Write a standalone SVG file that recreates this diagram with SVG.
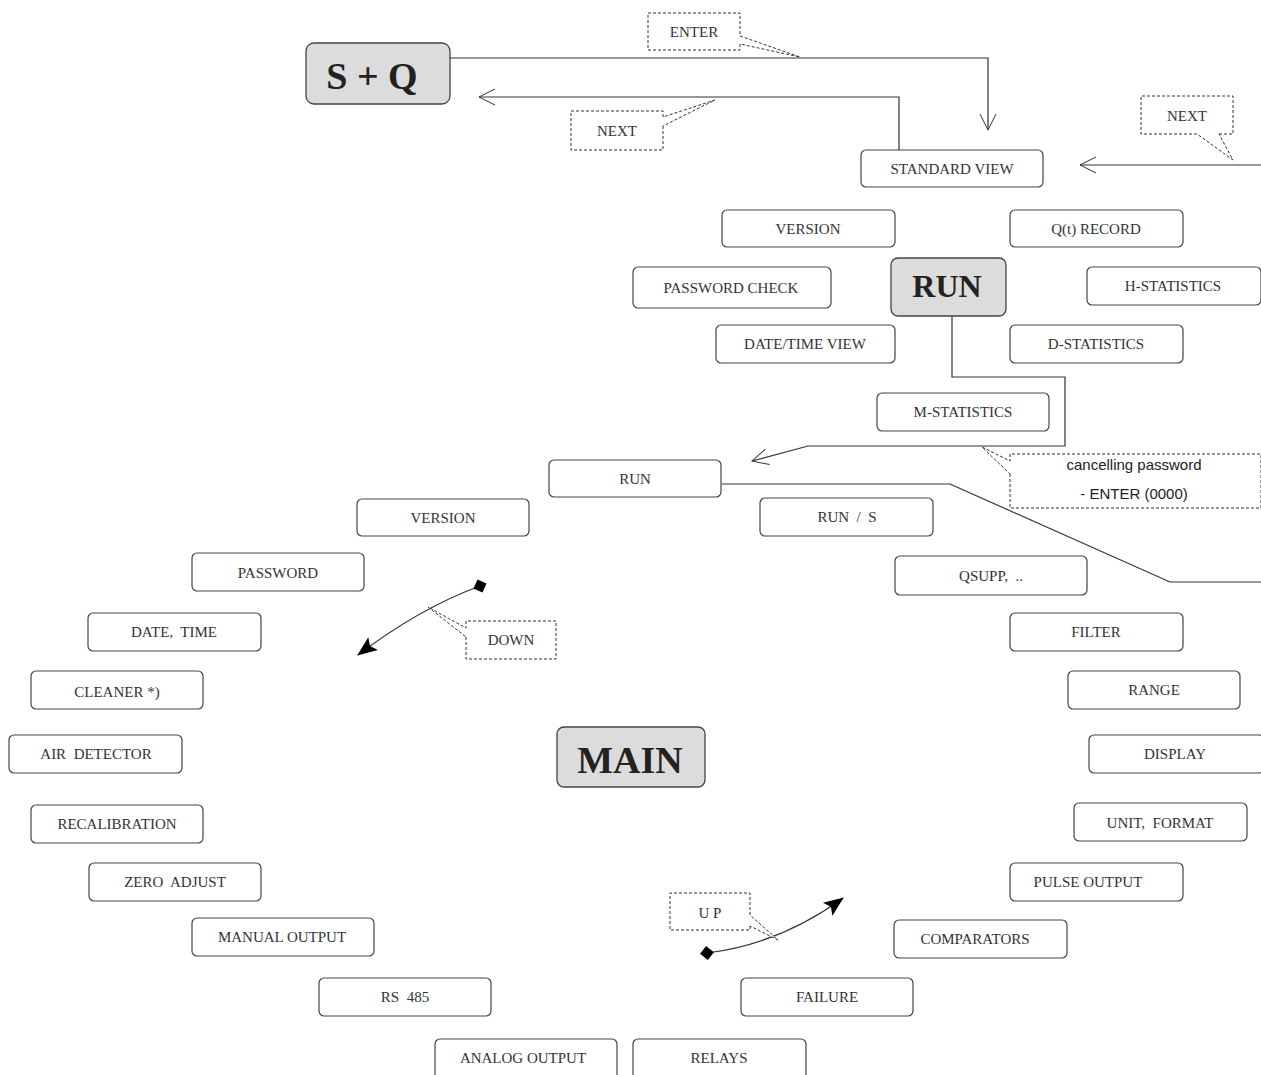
<svg xmlns="http://www.w3.org/2000/svg" width="1261" height="1075" viewBox="0 0 1261 1075">
<style>
.box{fill:#fff;stroke:#444;stroke-width:1.2}
.big{fill:#dcdcdc;stroke:#444;stroke-width:1.3}
.t{font-family:"Liberation Serif","Times New Roman",serif;font-size:15px;fill:#333;text-anchor:middle;white-space:pre}
.bt{font-family:"Liberation Serif","Times New Roman",serif;font-weight:bold;fill:#222;text-anchor:middle;white-space:pre}
.st{font-family:"Liberation Sans",Arial,sans-serif;font-size:15px;fill:#222;text-anchor:middle}
.ln{fill:none;stroke:#333;stroke-width:1.2}
.call{fill:#fff;stroke:#333;stroke-width:1;stroke-dasharray:3,2}
</style>
<defs>
<marker id="open" viewBox="0 0 20 20" refX="18" refY="10" markerWidth="20" markerHeight="20" markerUnits="userSpaceOnUse" orient="auto">
<path d="M2,2 L18,10 L2,18" fill="none" stroke="#333" stroke-width="1"/>
</marker>
<marker id="tri" viewBox="0 0 20 20" refX="19" refY="10" markerWidth="20" markerHeight="20" markerUnits="userSpaceOnUse" orient="auto">
<path d="M0,2 L20,10 L0,18 L4,10 Z" fill="#000"/>
</marker>
<marker id="dia" viewBox="0 0 14 14" refX="7" refY="7" markerWidth="14" markerHeight="14" markerUnits="userSpaceOnUse" orient="auto">
<path d="M7,0 L14,7 L7,14 L0,7 Z" fill="#000"/>
</marker>
</defs>

<g id="connectors">
<polyline class="ln" points="450,58 988,58 988,130" marker-end="url(#open)"/>
<polyline class="ln" points="899,150 899,97 479,97" marker-end="url(#open)"/>
<line class="ln" x1="1261" y1="165" x2="1080" y2="165" marker-end="url(#open)"/>
<polyline class="ln" points="952,316 952,377 1065,377 1065,446 808,446 752,461" marker-end="url(#open)"/>
<polyline class="ln" points="722,484 950,484 1170,582 1261,582"/>
<path class="ln" d="M480,586 Q420,608 358,655" marker-start="url(#dia)" marker-end="url(#tri)"/>
<path class="ln" d="M707,953 Q780,944 843,898" marker-start="url(#dia)" marker-end="url(#tri)"/>
</g>

<g id="callouts">
<g id="c-enter"><path class="call" d="M740,44 V50 H648 V13 H740 V36 L800,57 Z"/><text class="t" x="694" y="37">ENTER</text></g>
<g id="c-next1"><path class="call" d="M663,126 V150 H571 V111 H663 V117 L715,100 Z"/><text class="t" x="617" y="136">NEXT</text></g>
<g id="c-next2"><path class="call" d="M1219,134 H1233 V96 H1141 V134 H1197 L1233,160 Z"/><text class="t" x="1187" y="121">NEXT</text></g>
<g id="c-cancel"><path class="call" d="M1010,474 V508 H1261 V454 H1010 V461 L982,447 Z"/><text class="st" x="1134" y="470">cancelling password</text><text class="st" x="1134" y="499">- ENTER (0000)</text></g>
<g id="c-down"><path class="call" d="M466,637 V659 H556 V621 H466 V628 L428,607 Z"/><text class="t" x="511" y="645">DOWN</text></g>
<g id="c-up"><path class="call" d="M750,926 V930 H670 V893 H750 V915 L778,940 Z"/><text class="t" x="710" y="918">U P</text></g>
</g>

<g id="n-sq"><rect class="big" x="306" y="43" width="144" height="61" rx="8"/><text class="bt" x="372" y="89" font-size="38">S + Q</text></g>
<g id="n-std"><rect class="box" x="861" y="150" width="182" height="37" rx="5"/><text class="t" x="952" y="174">STANDARD VIEW</text></g>
<g id="n-version1"><rect class="box" x="722" y="210" width="173" height="37" rx="5"/><text class="t" x="808" y="234">VERSION</text></g>
<g id="n-qt"><rect class="box" x="1010" y="210" width="173" height="37" rx="5"/><text class="t" x="1096" y="234">Q(t) RECORD</text></g>
<g id="n-pwcheck"><rect class="box" x="633" y="267" width="198" height="41" rx="5"/><text class="t" x="731" y="293">PASSWORD CHECK</text></g>
<g id="n-run-big"><rect class="big" x="891" y="258" width="115" height="58" rx="7"/><text class="bt" x="947" y="297" font-size="32">RUN</text></g>
<g id="n-hstat"><rect class="box" x="1087" y="267" width="174" height="38" rx="5"/><text class="t" x="1173" y="291">H-STATISTICS</text></g>
<g id="n-dtview"><rect class="box" x="716" y="325" width="179" height="38" rx="5"/><text class="t" x="805" y="349">DATE/TIME VIEW</text></g>
<g id="n-dstat"><rect class="box" x="1010" y="325" width="173" height="38" rx="5"/><text class="t" x="1096" y="349">D-STATISTICS</text></g>
<g id="n-mstat"><rect class="box" x="877" y="393" width="172" height="38" rx="5"/><text class="t" x="963" y="417">M-STATISTICS</text></g>
<g id="n-run"><rect class="box" x="549" y="460" width="172" height="37" rx="5"/><text class="t" x="635" y="484">RUN</text></g>
<g id="n-version2"><rect class="box" x="357" y="499" width="172" height="37" rx="5"/><text class="t" x="443" y="523">VERSION</text></g>
<g id="n-runs"><rect class="box" x="760" y="498" width="173" height="38" rx="5"/><text class="t" x="847" y="522">RUN  /  S</text></g>
<g id="n-password"><rect class="box" x="192" y="553" width="172" height="38" rx="5"/><text class="t" x="278" y="578">PASSWORD</text></g>
<g id="n-qsupp"><rect class="box" x="895" y="556" width="192" height="39" rx="5"/><text class="t" x="991" y="581">QSUPP,  ..</text></g>
<g id="n-datetime"><rect class="box" x="88" y="613" width="173" height="38" rx="5"/><text class="t" x="174" y="637">DATE,  TIME</text></g>
<g id="n-filter"><rect class="box" x="1010" y="613" width="173" height="38" rx="5"/><text class="t" x="1096" y="637">FILTER</text></g>
<g id="n-cleaner"><rect class="box" x="31" y="671" width="172" height="38" rx="5"/><text class="t" x="117" y="697">CLEANER *)</text></g>
<g id="n-range"><rect class="box" x="1068" y="671" width="172" height="38" rx="5"/><text class="t" x="1154" y="695">RANGE</text></g>
<g id="n-air"><rect class="box" x="9" y="735" width="173" height="38" rx="5"/><text class="t" x="96" y="759">AIR  DETECTOR</text></g>
<g id="n-main"><rect class="big" x="557" y="727" width="148" height="60" rx="7"/><text class="bt" x="630" y="773" font-size="38">MAIN</text></g>
<g id="n-display"><rect class="box" x="1089" y="735" width="175" height="38" rx="5"/><text class="t" x="1175" y="759">DISPLAY</text></g>
<g id="n-recal"><rect class="box" x="31" y="805" width="172" height="38" rx="5"/><text class="t" x="117" y="829">RECALIBRATION</text></g>
<g id="n-unit"><rect class="box" x="1074" y="803" width="173" height="38" rx="5"/><text class="t" x="1160" y="828">UNIT,  FORMAT</text></g>
<g id="n-zero"><rect class="box" x="89" y="863" width="172" height="38" rx="5"/><text class="t" x="175" y="887">ZERO  ADJUST</text></g>
<g id="n-pulse"><rect class="box" x="1010" y="863" width="173" height="38" rx="5"/><text class="t" x="1088" y="887">PULSE OUTPUT</text></g>
<g id="n-manual"><rect class="box" x="192" y="918" width="182" height="38" rx="5"/><text class="t" x="282" y="942">MANUAL OUTPUT</text></g>
<g id="n-comp"><rect class="box" x="894" y="920" width="173" height="38" rx="5"/><text class="t" x="975" y="944">COMPARATORS</text></g>
<g id="n-rs"><rect class="box" x="319" y="978" width="172" height="38" rx="5"/><text class="t" x="405" y="1002">RS  485</text></g>
<g id="n-failure"><rect class="box" x="741" y="978" width="172" height="38" rx="5"/><text class="t" x="827" y="1002">FAILURE</text></g>
<g id="n-analog"><rect class="box" x="435" y="1039" width="182" height="42" rx="5"/><text class="t" x="523" y="1063">ANALOG OUTPUT</text></g>
<g id="n-relays"><rect class="box" x="633" y="1039" width="173" height="42" rx="5"/><text class="t" x="719" y="1063">RELAYS</text></g>
</svg>
